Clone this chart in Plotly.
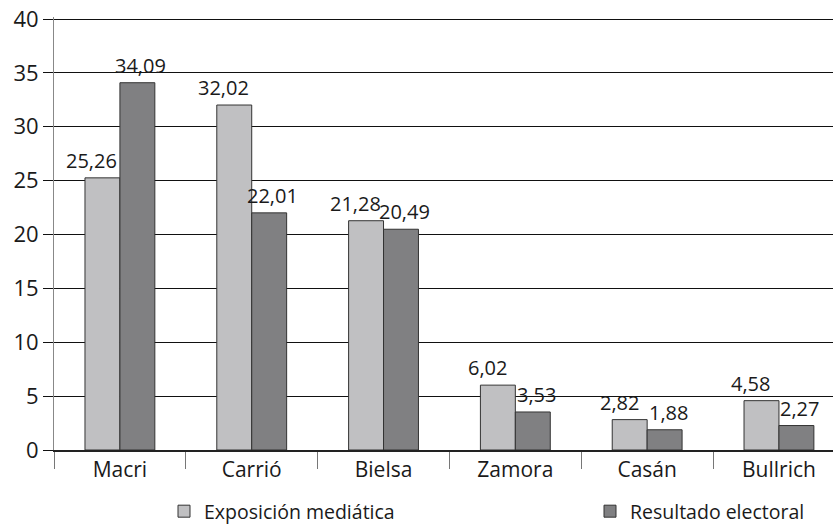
import plotly.graph_objects as go

categories = ["Macri", "Carrió", "Bielsa", "Zamora", "Casán", "Bullrich"]
exposicion = [25.26, 32.02, 21.28, 6.02, 2.82, 4.58]
resultado = [34.09, 22.01, 20.49, 3.53, 1.88, 2.27]
series_names = ["Exposición mediática", "Resultado electoral"]
y_ticks = [0, 5, 10, 15, 20, 25, 30, 35, 40]

FONT = "Open Sans"
LIGHT = "#c0c0c2"
DARK = "#808082"
TXT = "#1a1a1a"
W, H = 833, 531

def fmt(v):
    return f"{v:.2f}".replace(".", ",")

fig = go.Figure()
fig.add_trace(go.Bar(x=categories, y=exposicion, name=series_names[0], legend="legend",
                     marker=dict(color=LIGHT, line=dict(color="#333333", width=1))))
fig.add_trace(go.Bar(x=categories, y=resultado, name=series_names[1], legend="legend2",
                     marker=dict(color=DARK, line=dict(color="#333333", width=1))))

annotations = []
for vals, xs in ((exposicion, -28), (resultado, 21)):
    for c, v in zip(categories, vals):
        annotations.append(dict(x=c, y=v, text=fmt(v), showarrow=False,
                                xref="x", yref="y", yanchor="bottom",
                                xshift=xs, yshift=2,
                                font=dict(family=FONT, size=20, color=TXT)))

leg_common = dict(orientation="h", xref="container", yref="container",
                  y=0.0, xanchor="left", yanchor="bottom",
                  font=dict(family=FONT, size=19.5, color=TXT),
                  bgcolor="rgba(0,0,0,0)")

fig.update_layout(
    width=W, height=H,
    margin=dict(l=54, r=0, t=17, b=81),
    paper_bgcolor="white", plot_bgcolor="white",
    barmode="group", bargap=0.47, bargroupgap=0,
    font=dict(family=FONT, size=19, color=TXT),
    annotations=annotations,
    showlegend=True,
    legend=dict(x=164 / W, **leg_common),
    legend2=dict(x=590 / W, **leg_common),
    xaxis=dict(type="category", range=[-0.5, 5.41], showline=True,
               linecolor="#222222", linewidth=1.5, ticks="outside",
               tickson="boundaries", ticklen=17, tickcolor="#777777",
               tickwidth=1, showgrid=False, automargin=False,
               tickfont=dict(family=FONT, size=21, color=TXT)),
    yaxis=dict(range=[0, 40.19], tickvals=y_ticks, showgrid=True,
               gridcolor="#111111", gridwidth=1, zeroline=False,
               showline=True, linecolor="#888888", linewidth=1,
               ticks="outside", ticklen=10, tickcolor="#111111",
               automargin=False, ticklabeloverflow="allow",
               tickfont=dict(family=FONT, size=22, color=TXT)),
)

fig.write_html("out.html", config={"displayModeBar": False},
               post_script="document.body.style.margin='0';document.body.style.padding='0';")
